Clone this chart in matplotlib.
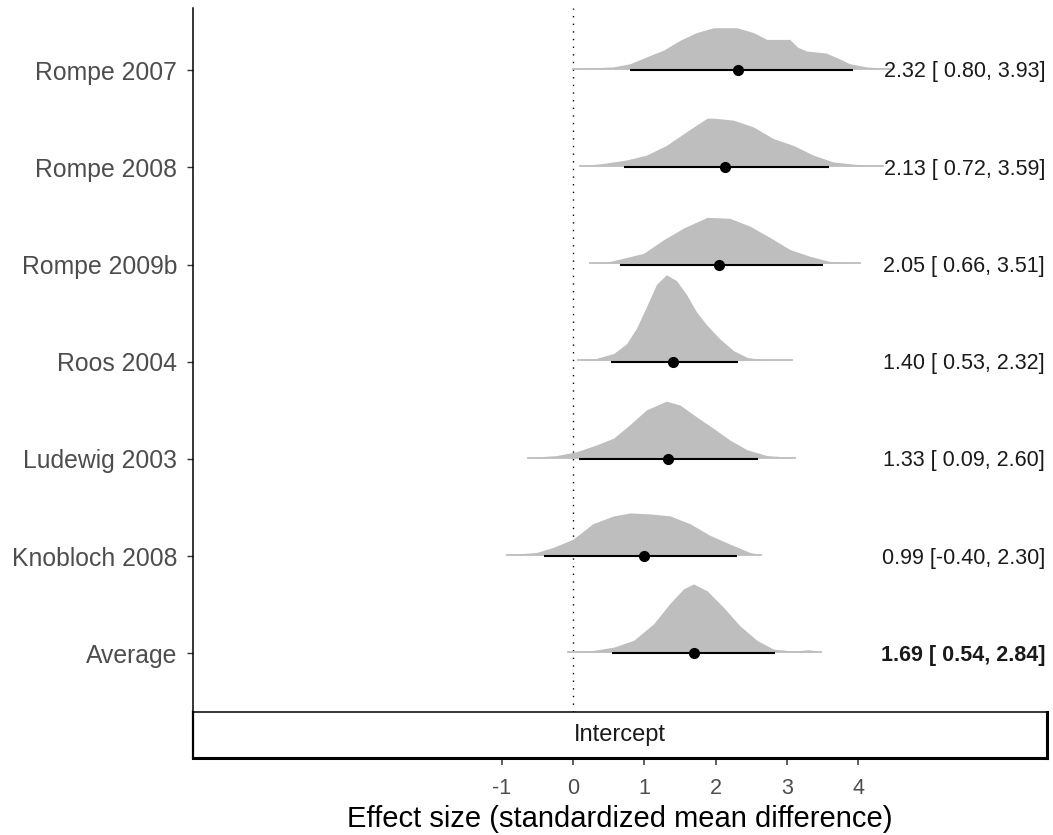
import numpy as np
from matplotlib import pyplot as plt

plt.rcParams['font.family'] = ['Liberation Sans', 'DejaVu Sans']

# studies, top to bottom
studies = ["Rompe 2007", "Rompe 2008", "Rompe 2009b", "Roos 2004",
           "Ludewig 2003", "Knobloch 2008", "Average"]
estimate = [2.32, 2.13, 2.05, 1.40, 1.33, 0.99, 1.69]
lower = [0.80, 0.72, 0.66, 0.53, 0.09, -0.40, 0.54]
upper = [3.93, 3.59, 3.51, 2.32, 2.60, 2.30, 2.84]

# posterior densities (x, height in row units)
rompe2007_x = [0.00, 0.56, 0.80, 1.03, 1.27, 1.50, 1.73, 1.97, 2.30, 2.53, 2.72, 3.04, 3.15, 3.28, 3.55, 3.74, 3.88, 4.12, 4.45]
rompe2007_h = [0.0, 0.017, 0.05, 0.12, 0.19, 0.29, 0.37, 0.42, 0.42, 0.37, 0.30, 0.30, 0.22, 0.18, 0.16, 0.10, 0.05, 0.017, 0.0]
rompe2008_x = [0.10, 0.42, 0.75, 1.03, 1.31, 1.59, 1.88, 1.97, 2.25, 2.53, 2.81, 3.09, 3.37, 3.65, 3.98, 4.35]
rompe2008_h = [0.0, 0.024, 0.06, 0.11, 0.21, 0.35, 0.49, 0.49, 0.47, 0.40, 0.28, 0.21, 0.11, 0.04, 0.014, 0.0]
rompe2009b_x = [0.24, 0.52, 0.71, 0.99, 1.27, 1.55, 1.88, 2.20, 2.48, 2.77, 3.04, 3.32, 3.60, 4.02]
rompe2009b_h = [0.0, 0.017, 0.05, 0.10, 0.24, 0.36, 0.47, 0.46, 0.38, 0.26, 0.14, 0.07, 0.017, 0.0]
roos2004_x = [0.07, 0.33, 0.57, 0.75, 0.89, 1.03, 1.17, 1.31, 1.45, 1.59, 1.73, 1.88, 2.06, 2.25, 2.44, 2.67, 3.07]
roos2004_h = [0.0, 0.02, 0.07, 0.17, 0.33, 0.55, 0.78, 0.88, 0.82, 0.68, 0.50, 0.36, 0.22, 0.10, 0.03, 0.005, 0.0]
ludewig2003_x = [-0.63, -0.23, 0.05, 0.33, 0.57, 0.80, 1.03, 1.31, 1.50, 1.73, 1.97, 2.20, 2.44, 2.72, 3.11]
ludewig2003_h = [0.0, 0.02, 0.06, 0.13, 0.20, 0.34, 0.49, 0.58, 0.54, 0.42, 0.30, 0.18, 0.08, 0.02, 0.0]
knobloch2008_x = [-0.93, -0.51, -0.28, 0.00, 0.28, 0.57, 0.80, 1.08, 1.36, 1.64, 1.92, 2.20, 2.48, 2.64]
knobloch2008_h = [0.0, 0.024, 0.075, 0.16, 0.32, 0.40, 0.43, 0.42, 0.40, 0.32, 0.20, 0.11, 0.024, 0.0]
average_x = [-0.07, 0.29, 0.57, 0.85, 1.13, 1.36, 1.55, 1.69, 1.88, 2.11, 2.34, 2.58, 2.81, 3.09, 3.31, 3.48]
average_h = [0.0, 0.017, 0.05, 0.12, 0.29, 0.50, 0.65, 0.70, 0.63, 0.46, 0.27, 0.12, 0.03, 0.01, 0.024, 0.0]

xticks = [-1, 0, 1, 2, 3, 4]
xlabel = "Effect size (standardized mean difference)"
strip_label = "Intercept"

W, H = 1053, 835
DENS_COL = '#BEBEBE'
GREY30 = '#4D4D4D'


def fig_box(left, top, right, bottom):
    # pixel box -> figure fraction
    return [left / W, 1 - bottom / H, (right - left) / W, (bottom - top) / H]


def main():
    dens_x = [rompe2007_x, rompe2008_x, rompe2009b_x, roos2004_x,
              ludewig2003_x, knobloch2008_x, average_x]
    dens_h = [rompe2007_h, rompe2008_h, rompe2009b_h, roos2004_h,
              ludewig2003_h, knobloch2008_h, average_h]
    n = len(studies)
    pos = np.arange(n)[::-1] + 1.0

    fig = plt.figure(figsize=(W / 100, H / 100), dpi=100)
    ax = fig.add_axes(fig_box(193, 8, 1047, 712))
    strip = fig.add_axes(fig_box(193, 712, 1047, 758))

    xlim = (-5.33, 6.648)
    ax.set_xlim(*xlim)
    ax.set_ylim(0.398, 7.638)

    ax.axvline(0, color='black', lw=1, dashes=(1, 4.5), zorder=1)

    for i in range(n):
        base = pos[i] + 0.015
        x = np.array(dens_x[i])
        h = np.array(dens_h[i])
        ax.fill_between(x, base, base + h, color=DENS_COL, lw=0, zorder=2)
        ax.plot([x[0], x[-1]], [base, base], color=DENS_COL, lw=1.3, zorder=2)
        ax.plot([lower[i], upper[i]], [pos[i], pos[i]], color='black',
                lw=1.5, solid_capstyle='butt', zorder=3)
        ax.plot(estimate[i], pos[i], 'o', color='black', ms=7, zorder=4)
        label = "%.2f [%5.2f, %.2f]" % (estimate[i], lower[i], upper[i])
        ax.text(6.62, pos[i] - 0.02, label, ha='right', va='center',
                fontsize=15.5, color='#1A1A1A',
                fontweight='bold' if studies[i] == 'Average' else 'normal')

    ax.set_yticks(pos)
    ax.set_yticklabels(studies)
    ax.tick_params(axis='y', length=4.5, width=1, color='#333333',
                   labelsize=17.8, labelcolor=GREY30, pad=7)
    ax.set_xticks([])
    for s in ['top', 'right', 'bottom']:
        ax.spines[s].set_visible(False)
    ax.spines['left'].set_linewidth(1.1)
    ax.spines['left'].set_color('black')

    # facet strip below the panel, axis under it
    strip.set_xlim(*xlim)
    strip.set_ylim(0, 1)
    strip.set_yticks([])
    strip.set_xticks(xticks)
    strip.set_xticklabels([str(t) for t in xticks])
    strip.tick_params(axis='x', length=5, width=1.1, color='#333333',
                      labelsize=15.5, labelcolor=GREY30, pad=9.5)
    strip.text(0.5, 0.5, strip_label, transform=strip.transAxes, ha='center',
               va='center', fontsize=17, color='#1A1A1A')
    for s, lw in [('top', 1.1), ('left', 1.6), ('bottom', 2.2), ('right', 2.2)]:
        strip.spines[s].set_linewidth(lw)
        strip.spines[s].set_color('black')
    strip.set_xlabel(xlabel, fontsize=21, color='black', labelpad=4)

    fig.savefig('out.png', dpi=100)


if (__name__ == '__main__'):
    main()
